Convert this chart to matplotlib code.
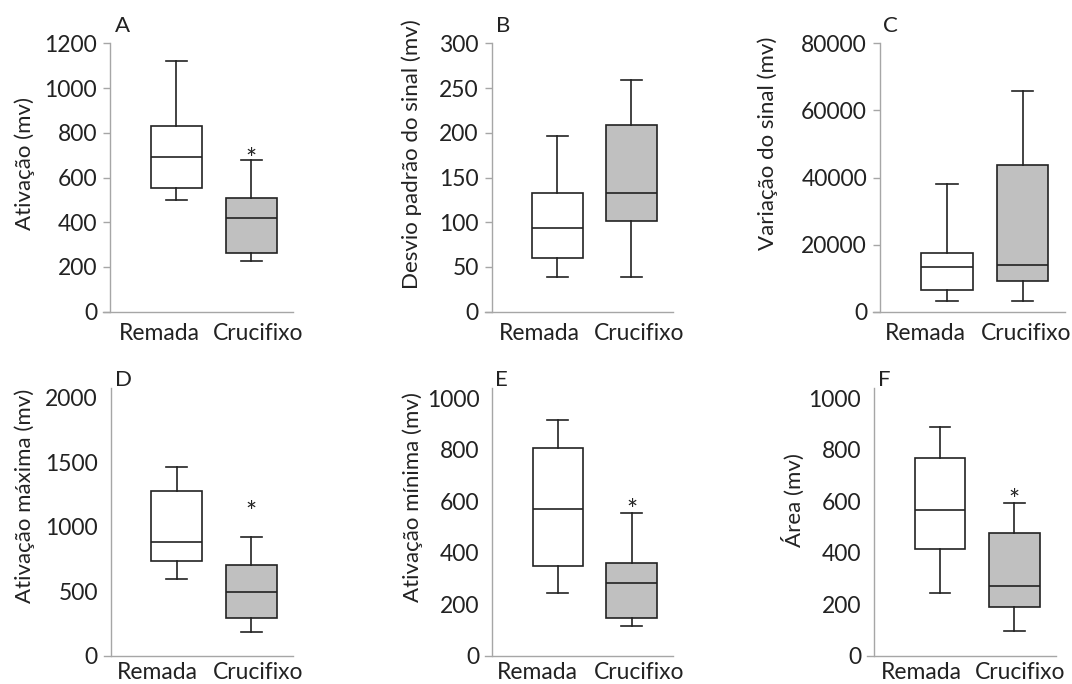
import matplotlib.pyplot as plt
import matplotlib as mpl

mpl.rcParams['font.family'] = ['Lato', 'DejaVu Sans']

W, H = 1072, 684

groups = ["Remada", "Crucifixo"]
letters = ["A", "B", "C", "D", "E", "F"]
ylabels = ["Ativação (mv)", "Desvio padrão do sinal (mv)", "Variação do sinal (mv)",
           "Ativação máxima (mv)", "Ativação mínima (mv)", "Área (mv)"]

# five-number summaries: [whislo, q1, med, q3, whishi]
remada = [
    [499, 555, 693, 829, 1122],
    [39, 60, 93, 133, 196],
    [3180, 6460, 13200, 17500, 38000],
    [595, 733, 885, 1277, 1464],
    [244, 349, 570, 805, 915],
    [243, 416, 566, 766, 889],
]
crucifixo = [
    [228, 261, 419, 507, 678],
    [39, 101, 133, 209, 259],
    [3180, 9240, 13900, 43800, 65900],
    [187, 292, 497, 703, 923],
    [115, 149, 284, 362, 554],
    [97, 191, 271, 475, 594],
]
# asterisk (significance) height, None = no mark
star_y = [712, None, None, 1162, 589, 628]

ylims = [1200, 300, 80000, 2070, 1038, 1038]
yticks = [
    [0, 200, 400, 600, 800, 1000, 1200],
    [0, 50, 100, 150, 200, 250, 300],
    [0, 20000, 40000, 60000, 80000],
    [0, 500, 1000, 1500, 2000],
    [0, 200, 400, 600, 800, 1000],
    [0, 200, 400, 600, 800, 1000],
]

# layout in pixels
spine_x = [110, 491.7, 880, 110.7, 492.3, 874]
right_x = [293, 673, 1065, 293, 673, 1056]
tops = [43.3, 43.3, 43.3, 388.3, 388.3, 388.3]
bots = [311.7, 311.7, 311.7, 656, 656, 656]
xlab_px = [(159, 258), (539, 639), (925.5, 1026), (157.5, 257.7), (537.5, 639), (921.5, 1020.5)]
lab_x = [-0.358, -0.335, -0.496, -0.363, -0.330, -0.328]
lab_y = [0.554, 0.588, 0.629, 0.598, 0.594, 0.583]
letter_px = [(115, 32), (496, 32), (883, 32), (115, 386.5), (495, 386.5), (878, 386.5)]

ink = "#222222"
grey = "#a6a6a6"
fs = 16
x0, x1 = 0.02, 2.56

fig = plt.figure(figsize=(W / 100, H / 100), dpi=100)

for i in range(6):
    left = spine_x[i] - 7
    width = right_x[i] - left
    ax = fig.add_axes([left / W, 1 - bots[i] / H, width / W, (bots[i] - tops[i]) / H])

    stats = []
    for name, s in zip(groups, [remada[i], crucifixo[i]]):
        stats.append(dict(label=name, whislo=s[0], q1=s[1], med=s[2], q3=s[3], whishi=s[4], fliers=[]))
    bp = ax.bxp(stats, positions=[1, 2], widths=0.68, capwidths=0.28, patch_artist=True,
                showfliers=False,
                boxprops=dict(edgecolor=ink, linewidth=1.2),
                whiskerprops=dict(color=ink, linewidth=1.2),
                capprops=dict(color=ink, linewidth=1.2),
                medianprops=dict(color=ink, linewidth=1.2))
    bp['boxes'][0].set_facecolor("white")
    bp['boxes'][1].set_facecolor("#c0c0c0")

    if star_y[i] is not None:
        ax.annotate("*", xy=(2, star_y[i]), xytext=(0, -11), textcoords="offset points",
                    ha="center", va="baseline", fontsize=19, color=ink)

    ax.set_xlim(x0, x1)
    ax.set_ylim(0, ylims[i])
    ax.set_yticks(yticks[i])
    # category labels sit a little left of the boxes in the original
    ax.set_xticks([x0 + (p - left) * (x1 - x0) / width for p in xlab_px[i]])
    ax.set_xticklabels(groups)

    for sp in ["top", "right"]:
        ax.spines[sp].set_visible(False)
    ax.spines["left"].set_position(("outward", -5.04))
    ax.spines["left"].set_color(grey)
    ax.spines["bottom"].set_color(grey)
    ax.spines["left"].set_linewidth(1.0)
    ax.spines["bottom"].set_linewidth(1.0)

    if i < 3:
        ax.tick_params(axis="y", length=5, width=1.0, color=grey, pad=4.3, labelsize=16.5, labelcolor=ink)
        ax.tick_params(axis="x", length=0, pad=8, labelsize=16.5, labelcolor=ink)
    else:
        ax.tick_params(axis="y", length=0, pad=9.3, labelsize=16.5, labelcolor=ink)
        ax.tick_params(axis="x", length=0, pad=4, labelsize=16.5, labelcolor=ink)

    ax.set_ylabel(ylabels[i], fontsize=fs, color=ink)
    ax.yaxis.set_label_coords(lab_x[i], lab_y[i])

    fig.text(letter_px[i][0] / W, 1 - letter_px[i][1] / H, letters[i],
             fontsize=fs, color=ink, va="baseline", ha="left")

fig.savefig("out.png", dpi=100)
